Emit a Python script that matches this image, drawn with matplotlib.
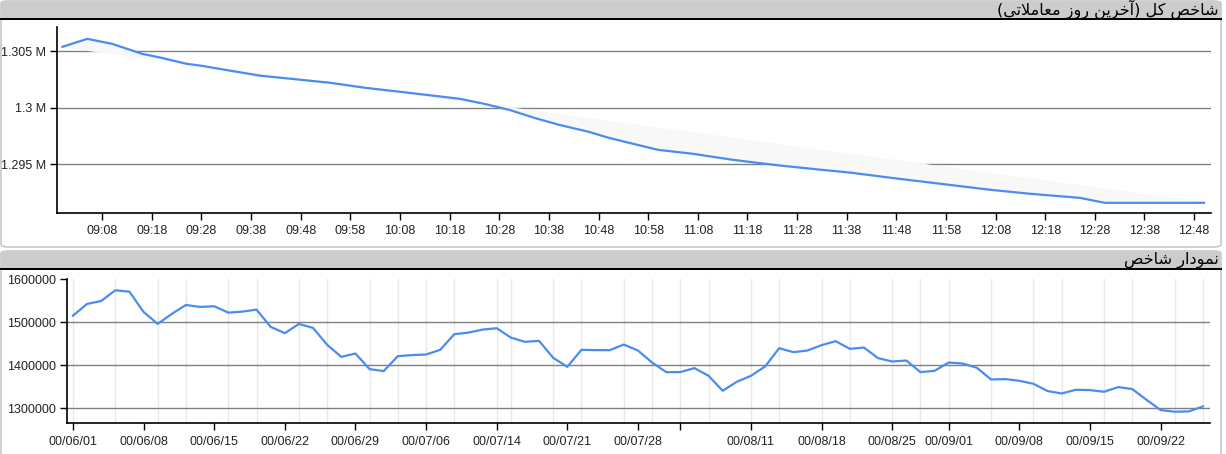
import matplotlib.pyplot as plt
from matplotlib.patches import FancyBboxPatch, Rectangle
from matplotlib.ticker import FixedLocator, FuncFormatter

W, H = 1226, 454

# top chart: index during the last trading day
title_top = 'شاخص کل (آخرین روز معاملاتی)'
intraday_time = ['09:00', '09:05', '09:10', '09:16', '09:20', '09:25', '09:28', '09:34',
                 '09:40', '09:46', '09:54', '10:01', '10:08', '10:20', '10:25', '10:30',
                 '10:35', '10:40', '10:46', '10:50', '10:55', '11:00', '11:07', '11:15',
                 '11:20', '11:25', '11:33', '11:39', '11:47', '11:57', '12:07', '12:15',
                 '12:25', '12:30', '12:50']
intraday_value = [1305400, 1306100, 1305660, 1304780, 1304420, 1303890, 1303720, 1303270,
                  1302830, 1302570, 1302210, 1301770, 1301420, 1300800, 1300350, 1299820,
                  1299120, 1298500, 1297880, 1297350, 1296810, 1296280, 1295930, 1295400,
                  1295130, 1294870, 1294510, 1294250, 1293800, 1293270, 1292740, 1292390,
                  1292030, 1291590, 1291590]
intraday_ticks = ['09:08', '09:18', '09:28', '09:38', '09:48', '09:58', '10:08', '10:18',
                  '10:28', '10:38', '10:48', '10:58', '11:08', '11:18', '11:28', '11:38',
                  '11:48', '11:58', '12:08', '12:18', '12:28', '12:38', '12:48']
intraday_yticks = [1295000, 1300000, 1305000]

# bottom chart: daily index
title_bottom = 'نمودار شاخص'
daily_value = [1515300, 1542600, 1549500, 1574400, 1571200, 1524000, 1496000, 1519300,
               1540200, 1535600, 1537200, 1522300, 1524700, 1529300, 1489100, 1474400,
               1496000, 1486700, 1447200, 1419300, 1427000, 1390700, 1386000, 1420900,
               1423300, 1424700, 1435600, 1472100, 1475800, 1482800, 1486000, 1464200,
               1454200, 1456500, 1417000, 1396000, 1435600, 1434900, 1434900, 1447900,
               1434000, 1406000, 1383700, 1383700, 1393000, 1375100, 1340200, 1361200,
               1375100, 1396700, 1439500, 1430200, 1434000, 1446500, 1455800, 1437900,
               1440900, 1416300, 1408400, 1410700, 1383700, 1386700, 1406000, 1403700,
               1393700, 1366500, 1367400, 1363500, 1356500, 1339500, 1333900, 1342500,
               1341800, 1337900, 1348800, 1344100, 1319300, 1295300, 1291400, 1292100,
               1303700]
daily_tick_pos = [0, 5, 10, 15, 20, 25, 30, 35, 40, 43, 48, 53, 58, 62, 67, 72, 77]
daily_tick_label = ['00/06/01', '00/06/08', '00/06/15', '00/06/22', '00/06/29', '00/07/06',
                    '00/07/14', '00/07/21', '00/07/28', '', '00/08/11', '00/08/18',
                    '00/08/25', '00/09/01', '00/09/08', '00/09/15', '00/09/22']
daily_grid_pos = [0, 3, 6, 8, 11, 13, 16, 18, 21, 23, 25, 27, 30, 31, 34, 36, 39, 41, 43,
                  45, 48, 50, 53, 55, 58, 60, 62, 65, 68, 70, 73, 75, 78, 80]
daily_yticks = [1300000, 1400000, 1500000, 1600000]

# simple arabic shaping (matplotlib has no text shaping)
FORMS = {
    '\u0627': ('\ufe8d', '\ufe8e', None, None),
    '\u0622': ('\ufe81', '\ufe82', None, None),
    '\u062a': ('\ufe95', '\ufe96', '\ufe97', '\ufe98'),
    '\u062e': ('\ufea5', '\ufea6', '\ufea7', '\ufea8'),
    '\u062f': ('\ufea9', '\ufeaa', None, None),
    '\u0631': ('\ufead', '\ufeae', None, None),
    '\u0632': ('\ufeaf', '\ufeb0', None, None),
    '\u0634': ('\ufeb5', '\ufeb6', '\ufeb7', '\ufeb8'),
    '\u0635': ('\ufeb9', '\ufeba', '\ufebb', '\ufebc'),
    '\u0639': ('\ufec9', '\ufeca', '\ufecb', '\ufecc'),
    '\u0644': ('\ufedd', '\ufede', '\ufedf', '\ufee0'),
    '\u0645': ('\ufee1', '\ufee2', '\ufee3', '\ufee4'),
    '\u0646': ('\ufee5', '\ufee6', '\ufee7', '\ufee8'),
    '\u0648': ('\ufeed', '\ufeee', None, None),
    '\u06a9': ('\ufb8e', '\ufb8f', '\ufb90', '\ufb91'),
    '\u06cc': ('\ufbfc', '\ufbfd', '\ufbfe', '\ufbff'),
}


def shape(text):
    out = []
    i = 0
    n = len(text)
    while i < n:
        ch = text[i]
        if ch not in FORMS:
            out.append(ch)
            i += 1
            continue
        prev = text[i - 1] if i > 0 else ''
        link_prev = prev in FORMS and FORMS[prev][2] is not None
        if ch == '\u0644' and i + 1 < n and text[i + 1] in ('\u0627', '\u0622'):
            iso, fin = ('\ufefb', '\ufefc') if text[i + 1] == '\u0627' else ('\ufef5', '\ufef6')
            out.append(fin if link_prev else iso)
            i += 2
            continue
        nxt = text[i + 1] if i + 1 < n else ''
        iso, fin, ini, med = FORMS[ch]
        link_next = ini is not None and nxt in FORMS
        if link_prev and link_next:
            out.append(med)
        elif link_prev:
            out.append(fin)
        elif link_next:
            out.append(ini)
        else:
            out.append(iso)
        i += 1
    vis = ''.join(reversed(out))
    return vis.translate(str.maketrans('()', ')('))


def to_min(t):
    h, m = t.split(':')
    return int(h) * 60 + int(m)


def fx(px):
    return px / W


def fy(py):
    return 1 - py / H


plt.rcParams['font.family'] = ['Liberation Sans', 'DejaVu Sans']
fig = plt.figure(figsize=(W / 100, H / 100), dpi=100)

blue = '#4a8cf0'

# panel frames (drawn under the axes)
for top, bot in [(1, 247), (251, 470)]:
    fig.patches.append(FancyBboxPatch((fx(1), fy(bot)), fx(1220), (bot - top) / H,
                                      boxstyle='round,pad=0,rounding_size=0.006',
                                      transform=fig.transFigure, facecolor='white',
                                      edgecolor='#c8c8c8', linewidth=1.2, zorder=-3))
    fig.patches.append(Rectangle((fx(1), fy(top + 17)), fx(1220), 17 / H,
                                 transform=fig.transFigure, facecolor='#cccccc',
                                 edgecolor='none', zorder=-2))
    fig.patches.append(Rectangle((fx(0), fy(top + 18.5)), fx(1222), 1.5 / H,
                                 transform=fig.transFigure, facecolor='black',
                                 edgecolor='none', zorder=-1))

fig.text(fx(1219), fy(9.5), shape(title_top), ha='right', va='center', fontsize=11.6,
         family=['DejaVu Sans'])
fig.text(fx(1219), fy(260), shape(title_bottom), ha='right', va='center', fontsize=11.6,
         family=['DejaVu Sans'])

# top chart
ax1 = fig.add_axes([fx(57), fy(212.7), fx(1211 - 57), (212.7 - 27.3) / H])
ax1.patch.set_alpha(0)
tx = [to_min(t) for t in intraday_time]
ax1.fill(tx, intraday_value, color='#f8f8f8', zorder=1)
ax1.plot(tx, intraday_value, color=blue, linewidth=1.6, zorder=3)
ax1.set_xlim(538.9, 771.4)
ax1.set_ylim(1290717, 1307124)
ax1.xaxis.set_major_locator(FixedLocator([to_min(t) for t in intraday_ticks]))
ax1.set_xticklabels(intraday_ticks)
ax1.yaxis.set_major_locator(FixedLocator(intraday_yticks))
ax1.yaxis.set_major_formatter(FuncFormatter(lambda v, p: '%g M' % round(v / 1e6, 3)))
ax1.grid(axis='y', color='#808080', linewidth=1)
ax1.set_axisbelow(True)

# bottom chart
ax2 = fig.add_axes([fx(67), fy(423.3), fx(1210 - 67), (423.3 - 279.3) / H])
ax2.patch.set_alpha(0)
for g in daily_grid_pos:
    ax2.axvline(g, color='#e8e8e8', linewidth=1, zorder=0)
ax2.plot(range(len(daily_value)), daily_value, color=blue, linewidth=1.6, zorder=3)
ax2.set_xlim(-0.42, 80.5)
ax2.set_ylim(1264400, 1600000)
ax2.xaxis.set_major_locator(FixedLocator(daily_tick_pos))
ax2.set_xticklabels(daily_tick_label)
ax2.yaxis.set_major_locator(FixedLocator(daily_yticks))
ax2.yaxis.set_major_formatter(FuncFormatter(lambda v, p: '%d' % v))
for yv in daily_yticks[:-1]:
    ax2.axhline(yv, color='#808080', linewidth=1, zorder=1)

for ax in (ax1, ax2):
    for s in ('top', 'right'):
        ax.spines[s].set_visible(False)
    ax.spines['left'].set_linewidth(1.2)
    ax.spines['bottom'].set_linewidth(1.2)
    ax.tick_params(axis='both', labelsize=9, length=5, width=1, colors='black',
                   labelcolor='#222222')
    ax.tick_params(axis='x', pad=4)
    ax.tick_params(axis='y', pad=3)

fig.savefig('out.png', dpi=100)
